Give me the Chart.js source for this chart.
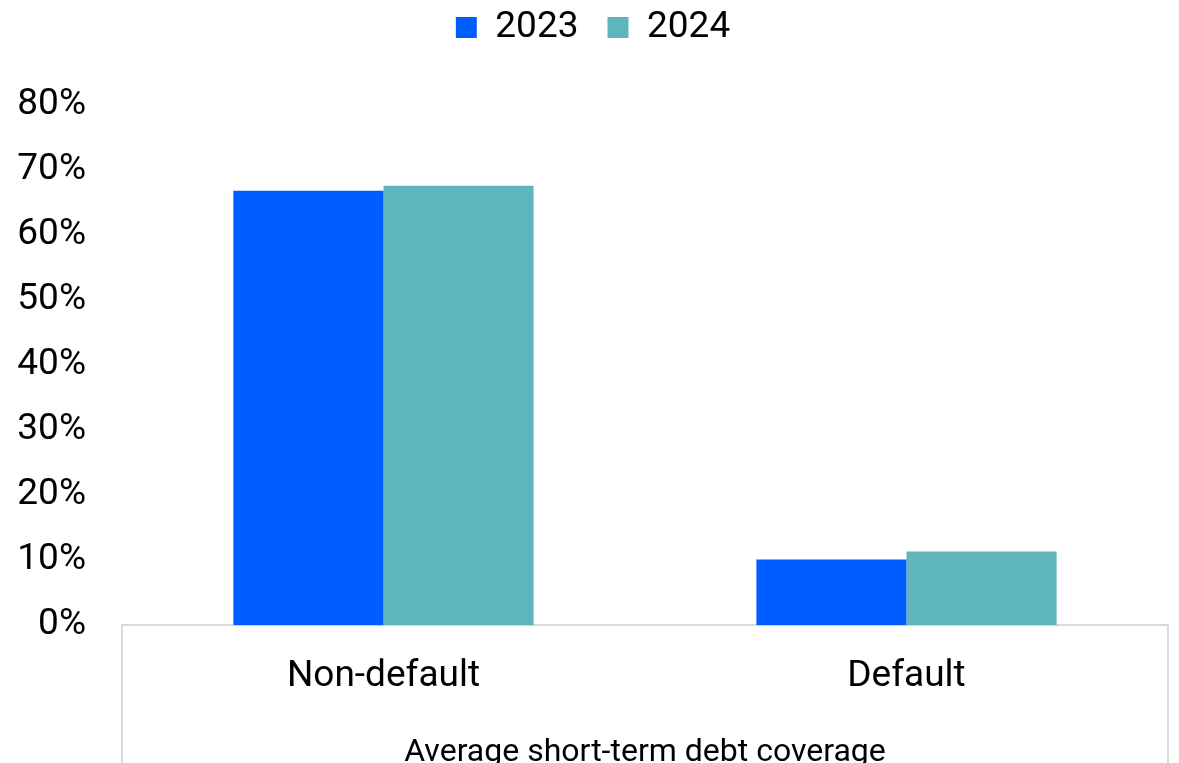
<!DOCTYPE html>
<html>
<head>
<meta charset="utf-8">
<script src="https://cdn.jsdelivr.net/npm/chart.js@4"></script>
<style>
  html, body { margin: 0; padding: 0; background: #fff; overflow: hidden; }
  #wrap { width: 1179px; height: 772px; }
</style>
</head>
<body>
<div id="wrap"><canvas id="chart1"></canvas></div>
<script>
const categories = ['Non-default', 'Default'];
const values2023 = [66.8, 10.1];
const values2024 = [67.6, 11.35];
const seriesNames = ['2023', '2024'];

// side lines of the category box, from the axis down past the bottom
const boxLines = {
  id: 'boxLines',
  afterDraw(chart) {
    const ctx = chart.ctx;
    const x = chart.scales.x;
    ctx.save();
    ctx.strokeStyle = '#d9d9d9';
    ctx.lineWidth = 2;
    ctx.beginPath();
    ctx.moveTo(x.left, x.top);
    ctx.lineTo(x.left, chart.height);
    ctx.moveTo(x.right, x.top);
    ctx.lineTo(x.right, chart.height);
    ctx.stroke();
    ctx.restore();
  }
};

// extra room under the legend
const legendGap = {
  id: 'legendGap',
  beforeInit(chart) {
    const fit = chart.legend.fit;
    chart.legend.fit = function () {
      fit.bind(chart.legend)();
      this.height += 49;
    };
  }
};

Chart.defaults.font.family = 'Roboto';
Chart.defaults.color = '#000';

const chart1 = new Chart(document.getElementById('chart1'), {
  type: 'bar',
  plugins: [boxLines, legendGap],
  data: {
    labels: categories,
    datasets: [{
      label: seriesNames[0],
      data: values2023,
      backgroundColor: '#005eff'
    }, {
      label: seriesNames[1],
      data: values2024,
      backgroundColor: '#5fb5bc'
    }]
  },
  options: {
    responsive: true,
    maintainAspectRatio: false,
    animation: false,
    datasets: {
      bar: { categoryPercentage: 0.574, barPercentage: 1 }
    },
    layout: { padding: { left: 18, right: 11, top: -20, bottom: 0 } },
    plugins: {
      legend: {
        position: 'top',
        labels: {
          font: { size: 37 },
          boxWidth: 21,
          boxHeight: 21,
          padding: 29
        }
      },
      tooltip: { enabled: false }
    },
    scales: {
      x: {
        grid: { display: false },
        border: { display: true, color: '#d9d9d9', width: 2 },
        ticks: { font: { size: 37 }, padding: 21 },
        title: {
          display: true,
          text: 'Average short-term debt coverage',
          font: { size: 32 },
          padding: { top: 14, bottom: 0 }
        }
      },
      y: {
        min: 0,
        max: 80,
        grid: { display: false, drawTicks: false },
        border: { display: false },
        afterFit: scale => { scale.width = 104; },
        ticks: {
          stepSize: 10,
          font: { size: 37 },
          padding: 36,
          callback: v => v + '%'
        }
      }
    }
  }
});
</script>
</body>
</html>
